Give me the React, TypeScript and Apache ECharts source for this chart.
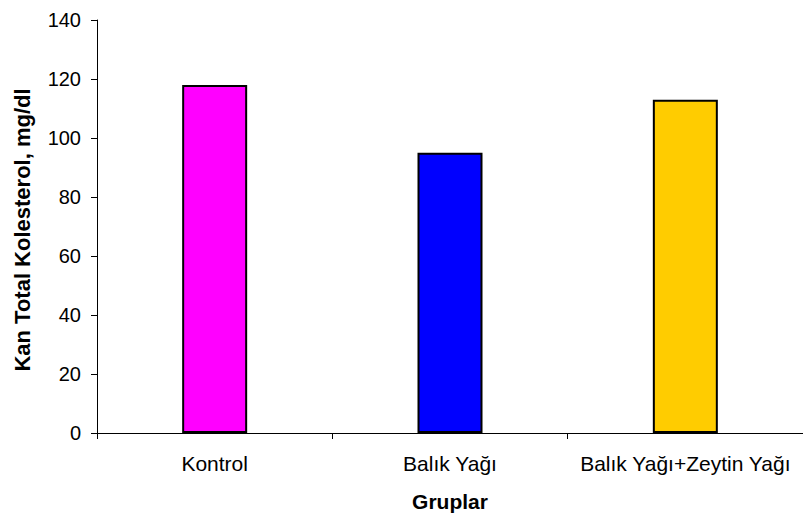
import React, { useEffect, useRef } from "react";
import * as echarts from "echarts";

// Blood total cholesterol by diet group
const groups = ["Kontrol", "Balık Yağı", "Balık Yağı+Zeytin Yağı"];
const cholesterol = [118, 95, 113];
const barColors = ["#FF00FF", "#0000FF", "#FFCC00"];

const yMin = 0;
const yMax = 140;
const yStep = 20;

const FONT = "'Liberation Sans', Arial, sans-serif";

export default function App() {
  const ref = useRef<HTMLDivElement>(null);

  useEffect(() => {
    if (!ref.current) return;
    const chart = echarts.init(ref.current, undefined, { renderer: "svg" });
    chart.setOption({
      animation: false,
      backgroundColor: "#ffffff",
      textStyle: { fontFamily: FONT },
      grid: { left: 97, right: 0, top: 20, bottom: 85, containLabel: false },
      xAxis: {
        type: "category",
        data: groups,
        name: "Gruplar",
        nameLocation: "middle",
        nameGap: 58,
        nameTextStyle: { fontFamily: FONT, fontSize: 21, fontWeight: "bold", color: "#000" },
        axisLine: { show: true, lineStyle: { color: "#000", width: 1 } },
        axisTick: { show: true, length: 6, alignWithLabel: false, interval: 0, lineStyle: { color: "#000" } },
        axisLabel: { interval: 0, margin: 20, fontFamily: FONT, fontSize: 21, color: "#000" },
        splitLine: { show: false },
      },
      yAxis: {
        type: "value",
        min: yMin,
        max: yMax,
        interval: yStep,
        name: "Kan Total Kolesterol, mg/dl",
        nameLocation: "middle",
        nameGap: 64,
        nameTextStyle: {
          fontFamily: FONT,
          fontSize: 22,
          fontWeight: "bold",
          color: "#000",
          padding: [0, 7, 0, 0],
        },
        axisLine: { show: true, lineStyle: { color: "#000", width: 1 } },
        axisTick: { show: true, length: 6, inside: false, lineStyle: { color: "#000" } },
        axisLabel: { margin: 16, fontFamily: FONT, fontSize: 20, color: "#000" },
        splitLine: { show: false },
      },
      series: [
        {
          type: "bar",
          barWidth: 65,
          data: cholesterol.map((v, i) => ({
            value: v,
            itemStyle: { color: barColors[i], borderColor: "#000", borderWidth: 2 },
          })),
        },
      ],
    });
    return () => chart.dispose();
  }, []);

  return (
    <div
      ref={ref}
      style={{ position: "absolute", left: 0, top: 0, width: 803, height: 518 }}
    />
  );
}
